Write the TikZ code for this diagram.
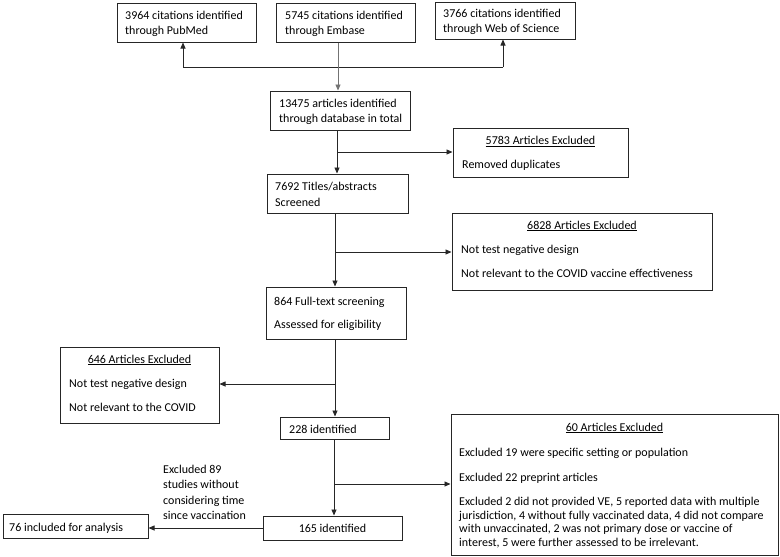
\documentclass[tikz,border=0pt]{standalone}
\usepackage{fontspec}
\setmainfont{Carlito}
\usetikzlibrary{arrows.meta}
\begin{document}
\begin{tikzpicture}[x=1pt,y=-1pt,
  box/.style={draw=black!85, line width=1pt, inner sep=0pt},
  txt/.style={inner sep=0pt, font=\fontsize{12}{15.5}\selectfont, align=left},
  ptxt/.style={inner sep=0pt, font=\fontsize{12}{13.4}\selectfont, align=left},
  ln/.style={draw=black!85, line width=0.8pt},
  arr/.style={ln, -{Triangle[length=6pt,width=5pt]}}]
\useasboundingbox (0,0) rectangle (780,557);
% boxes
\node[box, minimum width=139pt, minimum height=39pt] (pub) at (186.5,22.5) {};
\node[box, minimum width=139pt, minimum height=39pt] (emb) at (345.5,22.5) {};
\node[box, minimum width=140pt, minimum height=37pt] (wos) at (505,20.5) {};
\node[box, minimum width=140pt, minimum height=39pt] (tot) at (340,110.5) {};
\node[box, minimum width=175pt, minimum height=49pt] (ex1) at (540.5,152.5) {};
\node[box, minimum width=141pt, minimum height=39pt] (scr) at (337.5,193.5) {};
\node[box, minimum width=260pt, minimum height=77pt] (ex2) at (582,251.5) {};
\node[box, minimum width=140pt, minimum height=52pt] (full) at (336,313) {};
\node[box, minimum width=159pt, minimum height=76pt] (ex3) at (139.5,385) {};
\node[box, minimum width=109pt, minimum height=22pt] (ida) at (334.5,428) {};
\node[box, minimum width=327pt, minimum height=141pt] (ex4) at (614.5,484.5) {};
\node[box, minimum width=139pt, minimum height=24pt] (idb) at (332.5,528) {};
\node[box, minimum width=145pt, minimum height=24pt] (inc) at (75.5,526) {};
% texts
\node[txt, anchor=west] (tpub) at (125,24) {3964 citations identified\\through PubMed};
\node[txt, anchor=west] (temb) at (285,24) {5745 citations identified\\through Embase};
\node[txt, anchor=west] (twos) at (443,22) {3766 citations identified\\through Web of Science};
\node[txt, anchor=west] (ttot) at (279,112) {13475 articles identified\\through database in total};
\node[txt, anchor=west] (tscr) at (275,194.5) {7692 Titles/abstracts\\Screened};
\node[txt, anchor=base] (tex1a) at (540.5,144.5) {\underline{5783 Articles Excluded}};
\node[txt, anchor=base west] (tex1b) at (462,168) {Removed duplicates};
\node[txt, anchor=base] (tex2a) at (582,229) {\underline{6828 Articles Excluded}};
\node[txt, anchor=base west] (tex2b) at (461,253) {Not test negative design};
\node[txt, anchor=base west] (tex2c) at (461,277) {Not relevant to the COVID vaccine effectiveness};
\node[txt, anchor=base west] (tfa) at (274,305) {864 Full-text screening};
\node[txt, anchor=base west] (tfb) at (274,328) {Assessed for eligibility};
\node[txt, anchor=base] (tex3a) at (139.5,363) {\underline{646 Articles Excluded}};
\node[txt, anchor=base west] (tex3b) at (69,387) {Not test negative design};
\node[txt, anchor=base west] (tex3c) at (69,411) {Not relevant to the COVID};
\node[txt, anchor=base west] (tida) at (289,433) {228 identified};
\node[txt, anchor=base] (tex4a) at (614.5,431) {\underline{60 Articles Excluded}};
\node[txt, anchor=base west] (tex4b) at (459,456) {Excluded 19 were specific setting or population};
\node[txt, anchor=base west] (tex4c) at (459,481) {Excluded 22 preprint articles};
\node[ptxt, anchor=west] (tex4d) at (459,522.5) {Excluded 2 did not provided VE, 5 reported data with multiple\\jurisdiction, 4 without fully vaccinated data, 4 did not compare\\with unvaccinated, 2 was not primary dose or vaccine of\\interest, 5 were further assessed to be irrelevant.};
\node[txt, anchor=base] (tidb) at (332.5,532) {165 identified};
\node[txt, anchor=base west] (tinc) at (9,531) {76 included for analysis};
\node[txt, anchor=west] (tlab) at (163,492.5) {Excluded 89\\studies without\\considering time\\since vaccination};
% connectors
\coordinate (pL) at (183,67);
\coordinate (pR) at (503,67);
\coordinate (pM) at (338,67);
\draw[ln] (pL) -- (pR);
\draw[arr] (pL) -- (pub.south -| pL);
\draw[arr] (pR) -- (wos.south -| pR);
\draw[arr, draw=black!55] (emb.south -| pM) -- (tot.north -| pM);
\coordinate (t1) at (337,152);
\draw[arr] (tot.south -| t1) -- (scr.north -| t1);
\draw[arr] (t1) -- (ex1.west |- t1);
\coordinate (t2) at (335,252);
\draw[arr] (scr.south -| t2) -- (full.north -| t2);
\draw[arr] (t2) -- (ex2.west |- t2);
\coordinate (t3) at (335,384);
\draw[arr] (full.south -| t3) -- (ida.north -| t3);
\draw[arr] (t3) -- (ex3.east |- t3);
\coordinate (t4) at (334,484);
\draw[arr] (ida.south -| t4) -- (idb.north -| t4);
\draw[arr] (t4) -- (ex4.west |- t4);
\draw[arr] (idb.west) -- (inc.east |- idb.west);
\end{tikzpicture}
\end{document}
